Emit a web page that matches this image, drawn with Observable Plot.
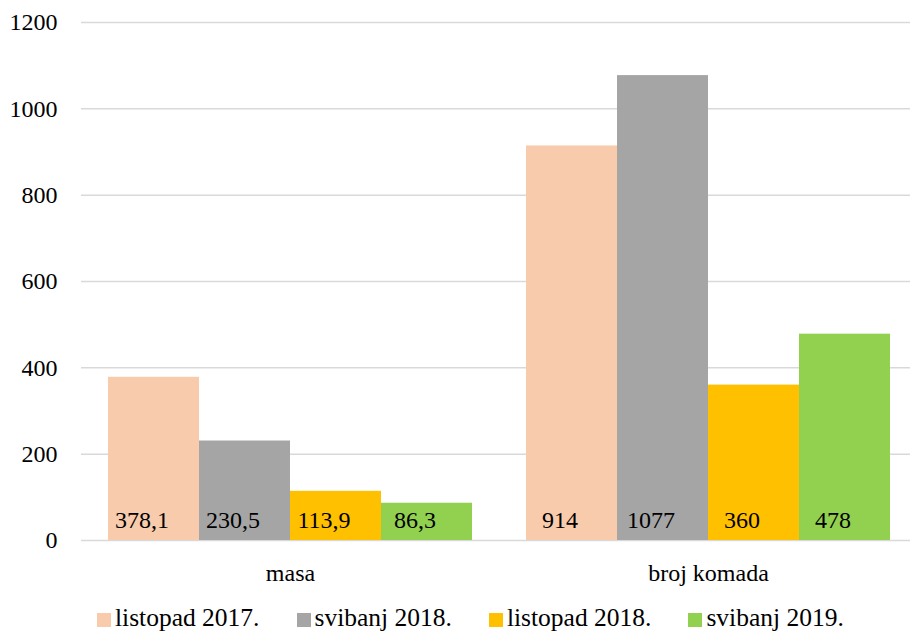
<!DOCTYPE html>
<html>
<head>
<meta charset="utf-8">
<script src="https://cdn.jsdelivr.net/npm/d3@7"></script>
<script src="https://cdn.jsdelivr.net/npm/@observablehq/plot@0.6"></script>
<style>
  html, body { margin: 0; padding: 0; background: #fff; }
  #chart { width: 910px; height: 632px; overflow: hidden; font-family: "Liberation Serif", serif; }
  #chart svg text { font-family: "Liberation Serif", serif; }
  .legend { display: flex; align-items: center; height: 32px; padding-left: 97px; padding-top: 3px; font-size: 25.5px; color: #000; box-sizing: border-box; }
  .legend .item { display: flex; align-items: center; margin-right: 37px; }
  .legend .sw { width: 14px; height: 14px; margin-right: 4px; position: relative; top: 2px; }
</style>
</head>
<body>
<div id="chart"></div>
<script>
const groups = ["masa", "broj komada"];
const series = ["listopad 2017.", "svibanj 2018.", "listopad 2018.", "svibanj 2019."];
const masaValues = [378.1, 230.5, 113.9, 86.3];
const brojKomadaValues = [914, 1077, 360, 478];
const masaLabels = ["378,1", "230,5", "113,9", "86,3"];
const brojKomadaLabels = ["914", "1077", "360", "478"];
const colors = ["#F8CBAD", "#A5A5A5", "#FFC000", "#92D050"];
const yTicks = [0, 200, 400, 600, 800, 1000, 1200];

const data = [];
series.forEach((s, i) => {
  data.push({group: groups[0], series: s, value: masaValues[i], label: masaLabels[i]});
  data.push({group: groups[1], series: s, value: brojKomadaValues[i], label: brojKomadaLabels[i]});
});

const font = "Liberation Serif, serif";

const chart = Plot.plot({
  width: 910,
  height: 600,
  marginLeft: 81,
  marginRight: 0,
  marginTop: 22,
  marginBottom: 60,
  style: {fontFamily: font, fontSize: "24px", color: "#000", background: "#fff", overflow: "hidden"},
  fx: {domain: groups, range: [81, 917], padding: 0, label: null},
  x: {domain: series, paddingInner: 0, paddingOuter: 0.29, axis: null},
  y: {domain: [0, 1200], label: null},
  color: {domain: series, range: colors},
  marks: [
    Plot.gridY(yTicks, {stroke: "#d9d9d9", strokeOpacity: 1, strokeWidth: 1.5}),
    Plot.barY(data, {fx: "group", x: "series", y: "value", fill: "series"}),
    Plot.text(data, {fx: "group", x: "series", y: 0, text: "label", lineAnchor: "bottom", dy: -13, dx: -12, fontSize: 24, fontFamily: font, fill: "#000"}),
    Plot.axisY(yTicks, {tickSize: 0, tickPadding: 24, fontSize: 24, fontFamily: font, tickFormat: d => String(d), label: null}),
    Plot.axisFx({anchor: "bottom", tickSize: 0, tickPadding: 23, fontSize: 24, fontFamily: font, label: null})
  ]
});

const root = document.getElementById("chart");
root.appendChild(chart);

const legend = document.createElement("div");
legend.className = "legend";
series.forEach((s, i) => {
  const item = document.createElement("div");
  item.className = "item";
  const sw = document.createElement("span");
  sw.className = "sw";
  sw.style.background = colors[i];
  const tx = document.createElement("span");
  tx.textContent = s;
  item.appendChild(sw);
  item.appendChild(tx);
  legend.appendChild(item);
});
root.appendChild(legend);
</script>
</body>
</html>
